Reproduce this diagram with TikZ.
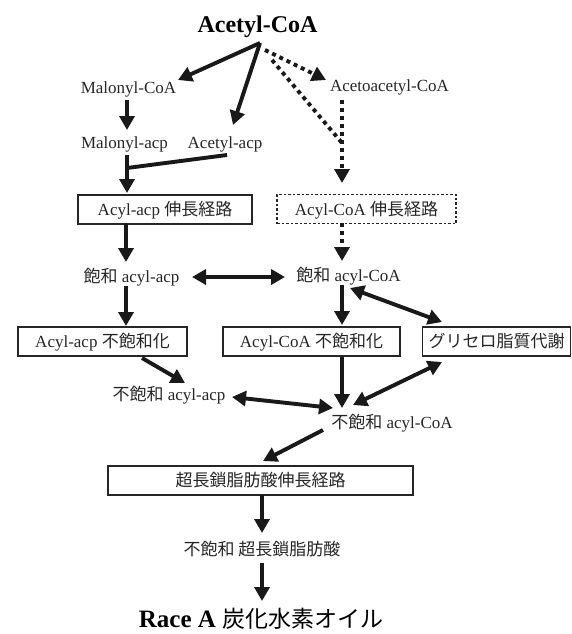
\documentclass[tikz,border=0pt]{standalone}
\usepackage{fontspec}
\setmainfont{Liberation Serif}
\newfontfamily\jp{Noto Sans CJK JP}
\usetikzlibrary{arrows.meta}
\begin{document}
\begin{tikzpicture}[x=1pt,y=-1pt,
  lbl/.style={anchor=base, inner sep=0pt, font=\fontsize{17}{20}\selectfont, text=black!85},
  boxn/.style={draw=black!85, line width=1.1pt, minimum height=29pt, inner sep=0pt,
    text height=12pt, text depth=0pt, font=\fontsize{17}{20}\selectfont, text=black!85},
  arr/.style={draw=black!90, line width=3.9pt, -{Triangle[length=14pt,width=15pt]}},
  darr/.style={draw=black!90, line width=3.9pt, {Triangle[length=14pt,width=15pt]}-{Triangle[length=14pt,width=15pt]}},
  dotl/.style={draw=black!90, line width=3.9pt, dash pattern=on 4pt off 4pt},
  dotarr/.style={dotl, -{Triangle[length=14pt,width=15pt]}},
]
\useasboundingbox (0,0) rectangle (572,634);

% text nodes
\node[lbl, font=\bfseries\fontsize{24}{28}\selectfont, text=black] (acoa) at (257.5,33) {Acetyl-CoA};
\node[lbl] (mcoa) at (128.5,93) {Malonyl-CoA};
\node[lbl] (aacoa) at (389.5,91) {Acetoacetyl-CoA};
\node[lbl] (macp) at (124.5,148) {Malonyl-acp};
\node[lbl] (aacp) at (225,148) {Acetyl-acp};
\node[lbl] (sacp) at (131.5,282) {{\jp 飽和} acyl-acp};
\node[lbl] (scoa) at (348.5,281) {{\jp 飽和} acyl-CoA};
\node[lbl] (uacp) at (169,400) {{\jp 不飽和} acyl-acp};
\node[lbl] (ucoa) at (392,428) {{\jp 不飽和} acyl-CoA};
\node[lbl] (vlc) at (262,555) {\jp 不飽和 超長鎖脂肪酸};
\node[lbl, text=black] (race) at (261,627) {\bfseries\fontsize{25}{30}\selectfont Race A {\mdseries\jp\fontsize{23}{28}\selectfont 炭化水素オイル}};

% boxes
\node[boxn, minimum width=174pt] (box1) at (165,209.5) {Acyl-acp {\jp 伸長経路}};
\node[boxn, minimum width=179pt, line width=1.1pt, dash pattern=on 2.5pt off 2pt] (box2) at (366.5,209) {Acyl-CoA {\jp 伸長経路}};
\node[boxn, minimum width=169pt] (box3) at (102.5,341.5) {Acyl-acp {\jp 不飽和化}};
\node[boxn, minimum width=177pt] (box4) at (311.5,341.5) {Acyl-CoA {\jp 不飽和化}};
\node[boxn, minimum width=148pt] (box5) at (496.5,341.5) {\jp グリセロ脂質代謝};
\node[boxn, minimum width=305pt] (box6) at (260.5,480.5) {\jp 超長鎖脂肪酸伸長経路};

% junction on dotted path
\coordinate (j) at ([shift={(-24.5,-66)}]box2.center);

% connectors
\draw[arr] ([shift={(2.5,10)}]acoa.base) -- ([shift={(49.5,-13)}]mcoa.base);
\draw[arr] ([shift={(2.5,10)}]acoa.base) -- ([shift={(8,-23)}]aacp.base);
\draw[dotarr] ([shift={(7.5,17)}]acoa.base) -- ([shift={(-63.5,-11)}]aacoa.base);
\draw[dotl] ([shift={(14.5,27)}]acoa.base) -- (j);
\draw[dotarr] ([shift={(-47.5,9)}]aacoa.base) -- ([shift={(-24.5,-26)}]box2.center);
\draw[arr] ([shift={(-1.5,7)}]mcoa.base) -- ([shift={(2.5,-18)}]macp.base);
\draw[arr] ([shift={(2.5,7)}]macp.base) -- ([shift={(-38,-16.5)}]box1.center);
\draw[draw=black!90, line width=3.9pt] ([shift={(2,7)}]aacp.base) -- ([shift={(-39.5,-41.3)}]box1.center);
\draw[arr] ([shift={(-39,14.5)}]box1.center) -- ([shift={(-5.5,-20)}]sacp.base);
\draw[dotarr] ([shift={(-24.5,14)}]box2.center) -- ([shift={(-6.5,-20)}]scoa.base);
\draw[darr] ([shift={(60.5,-5)}]sacp.base) -- ([shift={(-63.5,-4)}]scoa.base);
\draw[arr] ([shift={(-5.5,4)}]sacp.base) -- ([shift={(23.5,-15.5)}]box3.center);
\draw[arr] ([shift={(-6.5,4)}]scoa.base) -- ([shift={(30.5,-16.5)}]box4.center);
\draw[darr] ([shift={(1.5,7)}]scoa.base) -- ([shift={(-54.5,-19.5)}]box5.center);
\draw[arr] ([shift={(39.5,16.5)}]box3.center) -- ([shift={(16,-17)}]uacp.base);
\draw[arr] ([shift={(30.5,15.5)}]box4.center) -- ([shift={(-50,-20)}]ucoa.base);
\draw[darr] ([shift={(63,-3)}]uacp.base) -- ([shift={(-59,-20)}]ucoa.base);
\draw[darr] ([shift={(-54.5,20.5)}]box5.center) -- ([shift={(-39,-23)}]ucoa.base);
\draw[arr] ([shift={(-69,2)}]ucoa.base) -- ([shift={(2.5,-19.5)}]box6.center);
\draw[arr] ([shift={(1.5,14.5)}]box6.center) -- ([shift={(0,-22)}]vlc.base);
\draw[arr] ([shift={(0,8)}]vlc.base) -- ([shift={(1,-26)}]race.base);
\end{tikzpicture}
\end{document}
